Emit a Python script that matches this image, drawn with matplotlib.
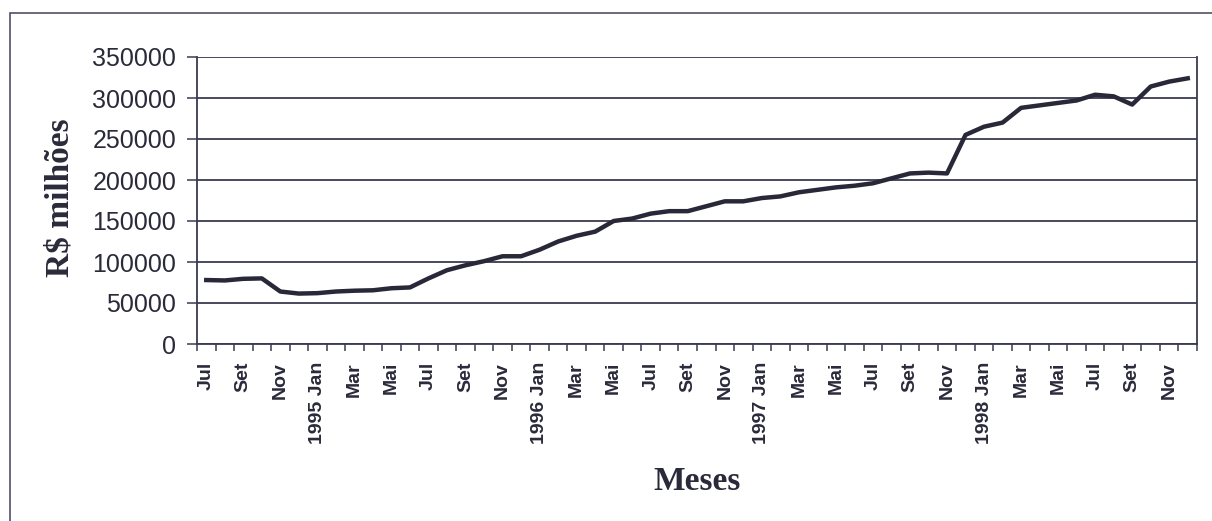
import numpy as np
import matplotlib
matplotlib.use("Agg")
import matplotlib.pyplot as plt
from matplotlib.patches import Rectangle

# Estoque mensal, jul/1994 a dez/1998 (R$ milhoes)
meses = ["Jul", "Ago", "Set", "Out", "Nov", "Dez",
         "1995 Jan", "Fev", "Mar", "Abr", "Mai", "Jun", "Jul", "Ago", "Set", "Out", "Nov", "Dez",
         "1996 Jan", "Fev", "Mar", "Abr", "Mai", "Jun", "Jul", "Ago", "Set", "Out", "Nov", "Dez",
         "1997 Jan", "Fev", "Mar", "Abr", "Mai", "Jun", "Jul", "Ago", "Set", "Out", "Nov", "Dez",
         "1998 Jan", "Fev", "Mar", "Abr", "Mai", "Jun", "Jul", "Ago", "Set", "Out", "Nov", "Dez"]
valores = [78000, 77500, 79500, 80000, 64000, 61500,
           62000, 64000, 65000, 65500, 68000, 69000, 80000, 90000, 96000, 101000, 107000, 107000,
           115000, 125000, 132000, 137000, 150000, 153000, 159000, 162000, 162000, 168000, 174000, 174000,
           178000, 180000, 185000, 188000, 191000, 193000, 196000, 202000, 208000, 209000, 208000, 255000,
           265000, 270000, 288000, 291000, 294000, 297000, 304000, 302000, 292000, 314000, 320000, 324000]
y_ticks = [0, 50000, 100000, 150000, 200000, 250000, 300000, 350000]

cor_linha = "#282838"
cor_grade = "#3a3a50"
cor_texto = "#2a2a3a"

fig = plt.figure(figsize=(12.12, 5.21), dpi=100)
fig.patch.set_facecolor("white")
# moldura da area do grafico
fig.add_artist(Rectangle((10 / 1212, -0.05), 1.2, (521 - 13) / 521 + 0.05,
                         transform=fig.transFigure, fill=False,
                         edgecolor="#50506a", linewidth=1.2))

ax = fig.add_axes([197 / 1212, (521 - 344) / 521, 1000 / 1212, 287 / 521])
x = np.arange(len(valores))
ax.plot(x, valores, color=cor_linha, linewidth=3.2, solid_joinstyle="round")

ax.set_xlim(-0.5, len(valores) - 0.5)
ax.set_ylim(0, 350000)
ax.set_yticks(y_ticks)
ax.set_yticklabels([str(v) for v in y_ticks], fontfamily="Liberation Sans",
                   fontsize=18, color=cor_texto)
ax.yaxis.grid(True, color=cor_grade, linewidth=1.3)
ax.set_axisbelow(True)

# marcas entre categorias, rotulos a cada dois meses
ax.set_xticks(np.arange(-0.5, len(valores), 1))
ax.set_xticklabels([])
ax.set_xticks(x[::2], minor=True)
ax.set_xticklabels(meses[::2], minor=True, rotation=90, fontweight="bold",
                   fontfamily="Liberation Sans", fontsize=14, color=cor_texto)
ax.tick_params(axis="x", which="major", length=5, width=1.1, color=cor_grade)
ax.tick_params(axis="x", which="minor", length=0, pad=13)
ax.tick_params(axis="y", length=7, width=1.1, color=cor_grade, pad=8)

for lado in ["left", "bottom", "right"]:
    ax.spines[lado].set_color(cor_grade)
    ax.spines[lado].set_linewidth(1.3)
ax.spines["top"].set_visible(False)

fig.text(60 / 1212, 1 - 198 / 521, "R$ milhões", rotation=90, ha="center", va="center",
         fontfamily="Liberation Serif", fontweight="bold", fontsize=24, color=cor_texto)
fig.text(697 / 1212, 1 - 481 / 521, "Meses", ha="center", va="center",
         fontfamily="Liberation Serif", fontweight="bold", fontsize=24, color=cor_texto)

fig.savefig("out.png", dpi=100, facecolor="white")
